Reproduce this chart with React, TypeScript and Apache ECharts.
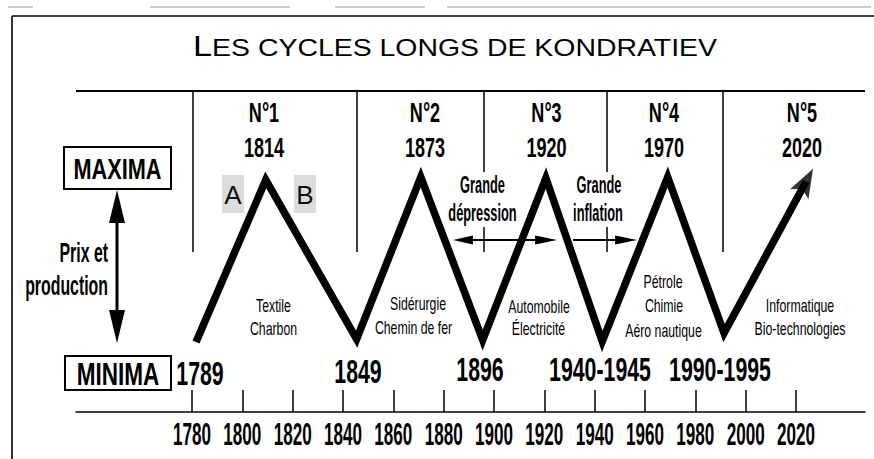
import React, { useEffect, useRef } from 'react';
import * as echarts from 'echarts';

// ---------- data ----------
const tickYears = [1780, 1800, 1820, 1840, 1860, 1880, 1900, 1920, 1940, 1960, 1980, 2000, 2020];
const cycleYears = [1781.6, 1809.3, 1845.4, 1870.9, 1895.5, 1920.6, 1943.0, 1969.0, 1991.4, 2024.0];
const cycleLevels = [-1.2, 98.8, 0.6, 100.6, 0, 100, -0.9, 100.6, 4.3, 97.9];
const cycleNames = ['N°1', 'N°2', 'N°3', 'N°4', 'N°5'];
const peakLabels = ['1814', '1873', '1920', '1970', '2020'];
const troughLabels = ['1789', '1849', '1896', '1940-1945', '1990-1995'];
const sectorLabels = [
  ['Textile', 'Charbon'],
  ['Sidérurgie', 'Chemin de fer'],
  ['Automobile', 'Électricité'],
  ['Pétrole', 'Chimie', 'Aéro nautique'],
  ['Informatique', 'Bio-technologies'],
];
const periodLabels = [
  ['Grande', 'dépression'],
  ['Grande', 'inflation'],
];
const titleFirst = 'L';
const titleRest = 'ES CYCLES LONGS DE KONDRATIEV';

// ---------- layout / style ----------
const SANS = "'Liberation Sans', Arial, Helvetica, sans-serif";
const NARROW_X = 0.82; // Arial -> Arial Narrow proportions
const ARROW_PATH = 'path://M10,0 L20,28 L10,22 L0,28 Z';
const peakX = [264, 425, 546.5, 664, 802];
const troughX = [200, 358, 480, 600, 720];
const troughY = [373, 371, 369, 369, 369];
const sectorPos = [
  [[273.5, 305.5], [273.5, 329]],
  [[418, 304], [413.5, 328]],
  [[539, 306.5], [538.5, 328.5]],
  [[663, 282], [664, 305.5], [663.5, 331]],
  [[800, 306], [800, 328.5]],
];
const periodPos = [
  [[482.5, 184], [482.5, 212.5]],
  [[599, 184], [598, 212.5]],
];
const dividerX = [193, 357, 484, 607, 723];

type TOpt = { size: number; weight?: string; align?: string; sx?: number; sy?: number; fill?: string; narrow?: boolean };
function txt(text: string, x: number, y: number, o: TOpt): any {
  const narrow = o.narrow ?? true;
  return {
    type: 'text',
    x,
    y,
    scaleX: (o.sx ?? 1) * (narrow ? NARROW_X : 1),
    scaleY: o.sy ?? 1,
    z: 10,
    style: {
      text,
      x: 0,
      y: 0,
      fill: o.fill ?? '#000',
      fontSize: o.size,
      fontWeight: o.weight ?? 'normal',
      fontFamily: SANS,
      align: o.align ?? 'center',
      verticalAlign: 'middle',
      textAlign: o.align ?? 'center',
      textVerticalAlign: 'middle',
    },
  };
}
function ln(x1: number, y1: number, x2: number, y2: number, w = 1.5, c = '#000', z = 1): any {
  return { type: 'line', z, shape: { x1, y1, x2, y2 }, style: { stroke: c, lineWidth: w } };
}
function poly(points: number[][]): any {
  return { type: 'polygon', z: 5, shape: { points }, style: { fill: '#000' } };
}

export default function App() {
  const ref = useRef<HTMLDivElement>(null);
  useEffect(() => {
    if (!ref.current) return;
    const chart = echarts.init(ref.current, undefined, { renderer: 'svg' });

    const graphic: any[] = [];
    // scan artifacts at very top
    [[8, 33], [150, 290], [335, 425], [447, 871]].forEach(([a, b]) => graphic.push(ln(a, 7, b, 7, 1, '#9a9a9a')));
    // outer frame
    graphic.push(ln(12, 16, 874, 16, 1.6));
    graphic.push(ln(12, 16, 12, 459, 1.6));
    // header frame
    graphic.push(ln(76, 91, 865, 91, 2));
    dividerX.forEach((x) => graphic.push(ln(x, 91, x, 252, 1.5)));
    // white backgrounds for period labels
    graphic.push({ type: 'rect', z: 3, shape: { x: 446, y: 172, width: 74, height: 55 }, style: { fill: '#fff' } });
    graphic.push({ type: 'rect', z: 3, shape: { x: 572, y: 172, width: 55, height: 55 }, style: { fill: '#fff' } });

    // title
    graphic.push({
      type: 'text',
      x: 193,
      y: 60,
      scaleX: 1.185,
      z: 10,
      style: {
        text: `{a|${titleFirst}}{b|${titleRest}}`,
        x: 0,
        y: 0,
        fill: '#000',
        align: 'left',
        textAlign: 'left',
        verticalAlign: 'bottom',
        textVerticalAlign: 'bottom',
        rich: {
          a: { fontSize: 29, fontFamily: SANS, verticalAlign: 'bottom', fill: '#000' },
          b: { fontSize: 24, fontFamily: SANS, verticalAlign: 'bottom', fill: '#000' },
        },
      },
    });

    // MAXIMA / MINIMA boxes
    graphic.push({ type: 'rect', z: 4, shape: { x: 64, y: 147, width: 107, height: 42 }, style: { fill: '#fff', stroke: '#000', lineWidth: 2 } });
    graphic.push({ type: 'rect', z: 4, shape: { x: 65, y: 356, width: 106, height: 34 }, style: { fill: '#fff', stroke: '#000', lineWidth: 2 } });
    graphic.push(txt('MAXIMA', 117.5, 168.5, { size: 26.5, weight: 'bold', sy: 1.12 }));
    graphic.push(txt('MINIMA', 118, 374, { size: 27.5, weight: 'bold', sy: 1.15 }));

    // vertical double arrow
    graphic.push(ln(117, 215, 117, 318, 3));
    graphic.push(poly([[117, 190], [125, 223], [109, 223]]));
    graphic.push(poly([[117, 343], [125, 310], [109, 310]]));
    graphic.push(txt('Prix et', 108, 252, { size: 21.5, weight: 'bold', align: 'right', sx: 0.9, sy: 1.3 }));
    graphic.push(txt('production', 108, 285, { size: 21.5, weight: 'bold', align: 'right', sx: 0.9, sy: 1.3 }));

    // A / B boxes
    graphic.push({ type: 'rect', z: 4, shape: { x: 222, y: 175, width: 22, height: 38 }, style: { fill: '#dcdcdc' } });
    graphic.push({ type: 'rect', z: 4, shape: { x: 294, y: 175, width: 22, height: 38 }, style: { fill: '#dcdcdc' } });
    graphic.push(txt('A', 233, 195, { size: 26, fill: '#111', narrow: false }));
    graphic.push(txt('B', 305, 195, { size: 26, fill: '#111', narrow: false }));

    // cycle headers
    cycleNames.forEach((n, i) => {
      graphic.push(txt(n, peakX[i], 112.5, { size: 22, weight: 'bold', sy: 1.27 }));
      graphic.push(txt(peakLabels[i], peakX[i], 147, { size: 22, weight: 'bold', sy: 1.27 }));
    });
    // trough labels
    troughLabels.forEach((t, i) => graphic.push(txt(t, troughX[i], troughY[i], { size: 26, weight: 'bold', sy: 1.3 })));
    // sectors
    sectorLabels.forEach((lines, i) => lines.forEach((s, j) => graphic.push(txt(s, sectorPos[i][j][0], sectorPos[i][j][1], { size: 15, sy: 1.22 }))));
    // period labels
    periodLabels.forEach((lines, i) => lines.forEach((s, j) => graphic.push(txt(s, periodPos[i][j][0], periodPos[i][j][1], { size: 17, weight: 'bold', sx: 0.92, sy: 1.45 }))));
    // horizontal arrows
    graphic.push(ln(465, 240, 545, 240, 2.2, '#000', 5));
    graphic.push(poly([[453, 240], [473, 235.5], [473, 244.5]]));
    graphic.push(poly([[557, 240], [535, 235.5], [535, 244.5]]));
    graphic.push(ln(573, 240, 622, 240, 2.2, '#000', 5));
    graphic.push(poly([[637, 240], [615, 235.5], [615, 244.5]]));

    const pts = cycleYears.map((y, i) => [y, cycleLevels[i]]);
    const last = pts[pts.length - 1];
    const yMin = -44.4;

    chart.setOption({
      animation: false,
      backgroundColor: '#fff',
      grid: { left: 76, right: 9, top: 97, bottom: 47, containLabel: false },
      xAxis: {
        type: 'value',
        min: 1733.9,
        max: 2047.4,
        splitLine: { show: false },
        axisLine: { show: true, onZero: false, lineStyle: { color: '#000', width: 1.5 } },
        axisTick: { show: true, inside: true, length: 22, lineStyle: { color: '#000', width: 1.5 }, customValues: tickYears },
        axisLabel: { show: false, customValues: tickYears },
      },
      yAxis: { type: 'value', min: yMin, max: 150, show: false, splitLine: { show: false } },
      series: [
        {
          type: 'line',
          data: pts,
          symbol: 'none',
          clip: false,
          z: 3,
          lineStyle: { color: '#000', width: 7.5, join: 'miter', miterLimit: 10, cap: 'butt' },
        },
        {
          type: 'scatter',
          data: [last],
          clip: false,
          z: 4,
          symbol: ARROW_PATH,
          symbolKeepAspect: false,
          symbolSize: [21, 29],
          symbolRotate: -28.4,
          itemStyle: { color: '#000' },
        },
      ],
      graphic: { elements: graphic },
    });

    // tick labels placed through the axis scale (condensed lettering)
    const tickLabels = tickYears.map((yr) => {
      const p = chart.convertToPixel({ gridIndex: 0 }, [yr, yMin]) as number[];
      return txt(String(yr), p[0], p[1] + 22, { size: 22, weight: 'bold', sx: 0.777 / NARROW_X, sy: 1.4 });
    });
    chart.setOption({ graphic: { elements: [...graphic, ...tickLabels] } });

    return () => chart.dispose();
  }, []);
  return <div ref={ref} style={{ position: 'fixed', left: 0, top: 0, width: 874, height: 459 }} />;
}
